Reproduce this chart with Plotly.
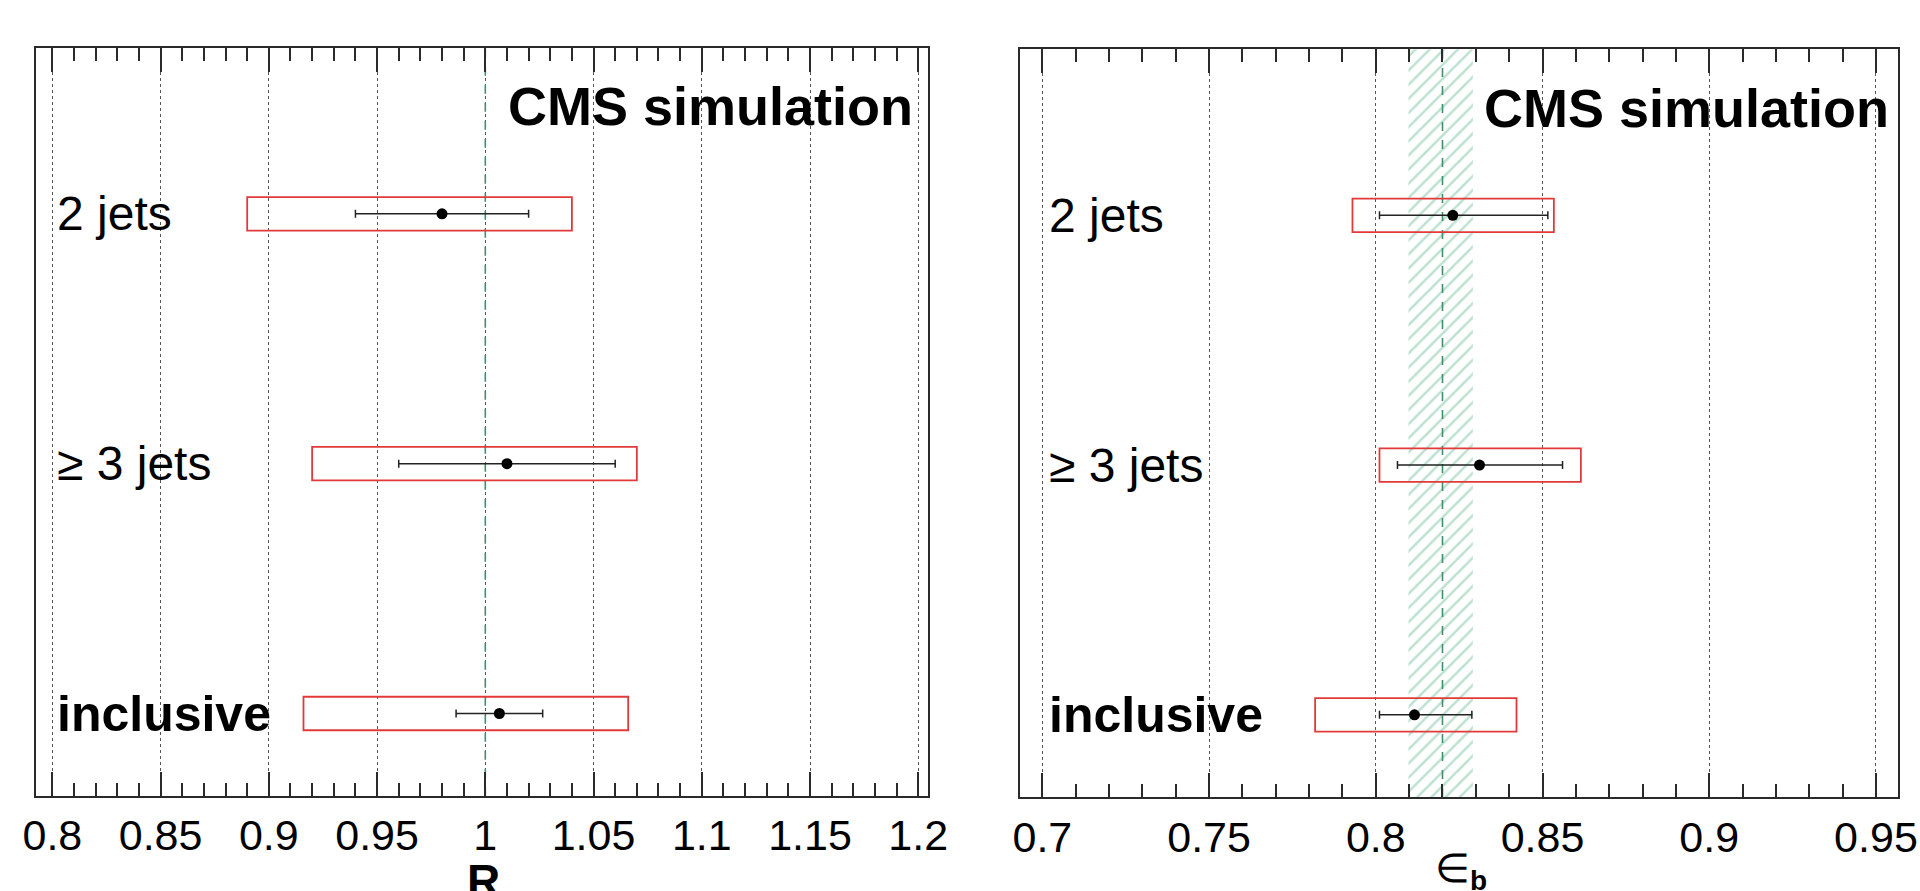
import plotly.graph_objects as go

# ---------------- data ----------------
categories = ["2 jets", "≥ 3 jets", "inclusive"]
row_pos = [3, 2, 1]

R_value = [0.980, 1.010, 1.0065]
R_err_plus = [0.040, 0.050, 0.020]
R_err_minus = [0.040, 0.050, 0.020]
R_box_lo = [0.890, 0.920, 0.916]
R_box_hi = [1.040, 1.070, 1.066]
R_reference = 1.0

eb_value = [0.8231, 0.8311, 0.8116]
eb_err_plus = [0.0285, 0.0249, 0.0172]
eb_err_minus = [0.0220, 0.0246, 0.0105]
eb_box_lo = [0.7930, 0.8011, 0.7818]
eb_box_hi = [0.8534, 0.8615, 0.8422]
eb_reference = 0.820
eb_band = [0.8098, 0.8291]

R_ticks = [0.8, 0.85, 0.9, 0.95, 1.0, 1.05, 1.1, 1.15, 1.2]
R_ticklabels = ["0.8", "0.85", "0.9", "0.95", "1", "1.05", "1.1", "1.15", "1.2"]
eb_ticks = [0.7, 0.75, 0.8, 0.85, 0.9, 0.95]
eb_ticklabels = ["0.7", "0.75", "0.8", "0.85", "0.9", "0.95"]

# ---------------- style ----------------
FONT = "Liberation Sans, Arial, Helvetica, sans-serif"
FRAME = "#2a2a2a"
RED = "#e23a3a"
TEAL = "#3f8f70"
HATCH = "#7cc4a2"
BOX_HALF = 0.067
Y_RANGE = [0.671, 3.665]
W, H = 1920, 891

fig = go.Figure()

# hatched band (right panel)
fig.add_trace(go.Scatter(
    x=[eb_band[0], eb_band[1], eb_band[1], eb_band[0], eb_band[0]],
    y=[Y_RANGE[0], Y_RANGE[0], Y_RANGE[1], Y_RANGE[1], Y_RANGE[0]],
    mode="lines", line=dict(width=0, color="rgba(0,0,0,0)"),
    fill="toself", fillcolor="rgba(0,0,0,0)",
    fillpattern=dict(shape="/", fgcolor=HATCH, bgcolor="rgba(0,0,0,0)",
                     size=10, solidity=0.25),
    xaxis="x2", yaxis="y2", hoverinfo="skip", showlegend=False,
))

# reference lines
fig.add_trace(go.Scatter(x=[R_reference, R_reference], y=Y_RANGE, mode="lines",
                         line=dict(color=TEAL, width=1.6, dash="dash"),
                         xaxis="x", yaxis="y", showlegend=False, hoverinfo="skip"))
fig.add_trace(go.Scatter(x=[eb_reference, eb_reference], y=Y_RANGE, mode="lines",
                         line=dict(color=TEAL, width=1.6, dash="dash"),
                         xaxis="x2", yaxis="y2", showlegend=False, hoverinfo="skip"))

# red boxes
shapes = []
for lo, hi, yv in zip(R_box_lo, R_box_hi, row_pos):
    shapes.append(dict(type="rect", xref="x", yref="y", x0=lo, x1=hi,
                       y0=yv - BOX_HALF, y1=yv + BOX_HALF,
                       line=dict(color=RED, width=1.8), fillcolor="rgba(0,0,0,0)"))
for lo, hi, yv in zip(eb_box_lo, eb_box_hi, row_pos):
    shapes.append(dict(type="rect", xref="x2", yref="y2", x0=lo, x1=hi,
                       y0=yv - BOX_HALF, y1=yv + BOX_HALF,
                       line=dict(color=RED, width=1.8), fillcolor="rgba(0,0,0,0)"))

# points with error bars
fig.add_trace(go.Scatter(
    x=R_value, y=row_pos, mode="markers",
    marker=dict(color="black", size=11),
    error_x=dict(type="data", array=R_err_plus, arrayminus=R_err_minus,
                 color="#222", thickness=1.5, width=4),
    xaxis="x", yaxis="y", showlegend=False))
fig.add_trace(go.Scatter(
    x=eb_value, y=row_pos, mode="markers",
    marker=dict(color="black", size=11),
    error_x=dict(type="data", array=eb_err_plus, arrayminus=eb_err_minus,
                 color="#222", thickness=1.5, width=4),
    xaxis="x2", yaxis="y2", showlegend=False))

# annotations
ann = []
for xr, yr, xpos, cms_x in [("x domain", "y", 0.022, 0.985), ("x2 domain", "y2", 0.031, 0.992)]:
    for cat, yv in zip(categories, row_pos):
        txt = f"<b>{cat}</b>" if cat == "inclusive" else cat
        ann.append(dict(text=txt, xref=xr, yref=yr, x=xpos, y=yv,
                        xanchor="left", yanchor="middle", showarrow=False,
                        font=dict(family=FONT, size=50 if cat == "inclusive" else 48, color="black")))
    ann.append(dict(text="<b>CMS simulation</b>", xref=xr,
                    yref="y domain" if yr == "y" else "y2 domain",
                    x=cms_x, y=0.922, xanchor="right", yanchor="middle", showarrow=False,
                    font=dict(family=FONT, size=54, color="black")))

ann.append(dict(text="<b>R</b>", xref="paper", yref="paper", x=483 / W, y=1 - 853 / H,
                xanchor="center", yanchor="top", showarrow=False,
                font=dict(family=FONT, size=46, color="black")))
ann.append(dict(text="∈<sub><b>b</b></sub>", xref="paper", yref="paper", x=1461 / W, y=1 - 844 / H,
                xanchor="center", yanchor="top", showarrow=False,
                font=dict(family=FONT, size=40, color="black")))


def xaxis_style(rng, ticks, labels, tick0, domain):
    return dict(
        domain=domain, range=rng, tickmode="array", tickvals=ticks, ticktext=labels,
        ticks="inside", ticklen=24, tickwidth=1.5, tickcolor=FRAME,
        minor=dict(ticks="inside", ticklen=13, tickwidth=1.5, tickcolor=FRAME,
                   tickmode="linear", tick0=tick0, dtick=0.01, showgrid=False),
        showgrid=True, gridcolor="#555", griddash="dot", gridwidth=1,
        showline=True, linecolor=FRAME, linewidth=2, mirror="ticks",
        zeroline=False, automargin=False, ticklabelstandoff=1,
        tickfont=dict(family=FONT, size=43, color="black"),
    )


def yaxis_style(domain):
    return dict(domain=domain, range=Y_RANGE, showticklabels=False, ticks="",
                showgrid=False, zeroline=False, showline=True, linecolor=FRAME,
                linewidth=2, mirror=True, automargin=False)


fig.update_layout(
    width=W, height=H,
    margin=dict(l=0, r=0, t=0, b=0),
    paper_bgcolor="white", plot_bgcolor="white",
    xaxis=xaxis_style([0.7923, 1.2045], R_ticks, R_ticklabels, 0.8, [35.7 / W, 928 / W]),
    yaxis=yaxis_style([1 - 795.7 / H, 1 - 47.7 / H]),
    xaxis2=dict(anchor="y2", **xaxis_style([0.6932, 0.9567], eb_ticks, eb_ticklabels, 0.7,
                                           [1019.7 / W, 1898.3 / W])),
    yaxis2=dict(anchor="x2", **yaxis_style([1 - 797 / H, 1 - 49.3 / H])),
    shapes=shapes,
    annotations=ann,
    showlegend=False,
)

fig.write_html("out.html", config={"displayModeBar": False},
               post_script="document.body.style.margin='0px';document.body.style.overflow='hidden';")
